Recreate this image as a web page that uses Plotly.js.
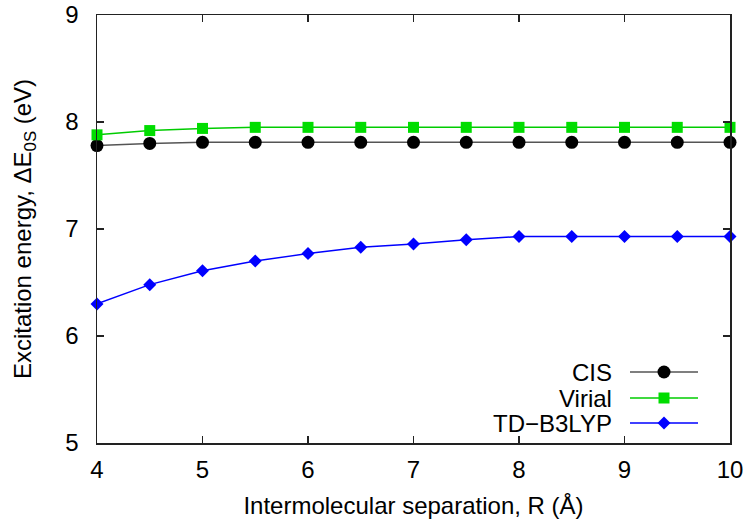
<!DOCTYPE html>
<html>
<head>
<meta charset="utf-8">
<script src="https://cdn.plot.ly/plotly-3.0.1.min.js"></script>
<style>html,body{margin:0;padding:0;background:#fff}#chart{width:748px;height:519px}</style>
</head>
<body>
<div id="chart"></div>
<script>
const R = [4, 4.5, 5, 5.5, 6, 6.5, 7, 7.5, 8, 8.5, 9, 9.5, 10];
const cis = [7.78, 7.80, 7.81, 7.81, 7.81, 7.81, 7.81, 7.81, 7.81, 7.81, 7.81, 7.81, 7.81];
const virial = [7.88, 7.92, 7.94, 7.95, 7.95, 7.95, 7.95, 7.95, 7.95, 7.95, 7.95, 7.95, 7.95];
const tdb3lyp = [6.30, 6.48, 6.61, 6.70, 6.77, 6.83, 6.86, 6.90, 6.93, 6.93, 6.93, 6.93, 6.93];
const seriesNames = ["CIS", "Virial", "TD\u2212B3LYP"];

const FONT = "Liberation Sans, Arial, Helvetica, sans-serif";
const L = 97, Rm = 18, T = 15, B = 76, W = 748, H = 519;
const pw = W - L - Rm, ph = H - T - B;
function px2x(p) { return (p - L) / pw; }
function px2y(p) { return (H - B - p) / ph; }

const traces = [
  {x: R, y: cis, name: seriesNames[0], mode: "lines+markers", cliponaxis: false,
   line: {color: "#555555", width: 1.5}, marker: {symbol: "circle", size: 13, color: "#000000"}},
  {x: R, y: virial, name: seriesNames[1], mode: "lines+markers", cliponaxis: false,
   line: {color: "#00cc00", width: 1.5}, marker: {symbol: "square", size: 11, color: "#00dd00"}},
  {x: R, y: tdb3lyp, name: seriesNames[2], mode: "lines+markers", cliponaxis: false,
   line: {color: "#0000ff", width: 1.5}, marker: {symbol: "diamond", size: 10, color: "#0000ff"}}
];

// custom gnuplot-style legend (text left, sample right)
const legRows = [372, 398, 423];
const legColors = [["#555555", "#000000"], ["#00cc00", "#00dd00"], ["#0000ff", "#0000ff"]];
const shapes = [], annotations = [];
legRows.forEach((py, i) => {
  const yy = px2y(py);
  shapes.push({type: "line", xref: "paper", yref: "paper", x0: px2x(630), x1: px2x(698), y0: yy, y1: yy,
    line: {color: legColors[i][0], width: 1.5}});
  const ax = px2x(664);
  if (i === 0) {
    shapes.push({type: "circle", xref: "paper", yref: "paper", xsizemode: "pixel", ysizemode: "pixel",
      xanchor: ax, yanchor: yy, x0: -6.5, x1: 6.5, y0: -6.5, y1: 6.5,
      fillcolor: legColors[i][1], line: {width: 0}});
  } else if (i === 1) {
    shapes.push({type: "rect", xref: "paper", yref: "paper", xsizemode: "pixel", ysizemode: "pixel",
      xanchor: ax, yanchor: yy, x0: -5.5, x1: 5.5, y0: -5.5, y1: 5.5,
      fillcolor: legColors[i][1], line: {width: 0}});
  } else {
    shapes.push({type: "path", xref: "paper", yref: "paper", xsizemode: "pixel", ysizemode: "pixel",
      xanchor: ax, yanchor: yy, path: "M0,-6.5 L6.5,0 L0,6.5 L-6.5,0 Z",
      fillcolor: legColors[i][1], line: {width: 0}});
  }
  annotations.push({xref: "paper", yref: "paper", x: px2x(614), y: yy, xanchor: "right", yanchor: "middle",
    text: seriesNames[i], showarrow: false, font: {family: FONT, size: 24, color: "#000"}});
});

const axisCommon = {
  showgrid: false, zeroline: false, showline: true, linecolor: "#222", linewidth: 1.5,
  mirror: "ticks", ticks: "inside", ticklen: 7, tickwidth: 1.2, tickcolor: "#222",
  tickfont: {family: FONT, size: 24, color: "#000"}
};

const layout = {
  width: W, height: H,
  margin: {l: L, r: Rm, t: T, b: B, pad: 0},
  paper_bgcolor: "#fff", plot_bgcolor: "#fff",
  showlegend: false,
  xaxis: Object.assign({}, axisCommon, {range: [4, 10], dtick: 1, tick0: 4, ticklabelstandoff: 5,
    title: {text: "Intermolecular separation, R (Å)", font: {family: FONT, size: 24, color: "#000"}, standoff: 18}}),
  yaxis: Object.assign({}, axisCommon, {range: [5, 9], dtick: 1, tick0: 5, ticklabelstandoff: 12,
    title: {text: "Excitation energy, ΔE<sub>0S</sub> (eV)", font: {family: FONT, size: 24, color: "#000"}, standoff: 27}}),
  shapes: shapes,
  annotations: annotations
};

Plotly.newPlot("chart", traces, layout, {displayModeBar: false, staticPlot: true});
</script>
</body>
</html>
